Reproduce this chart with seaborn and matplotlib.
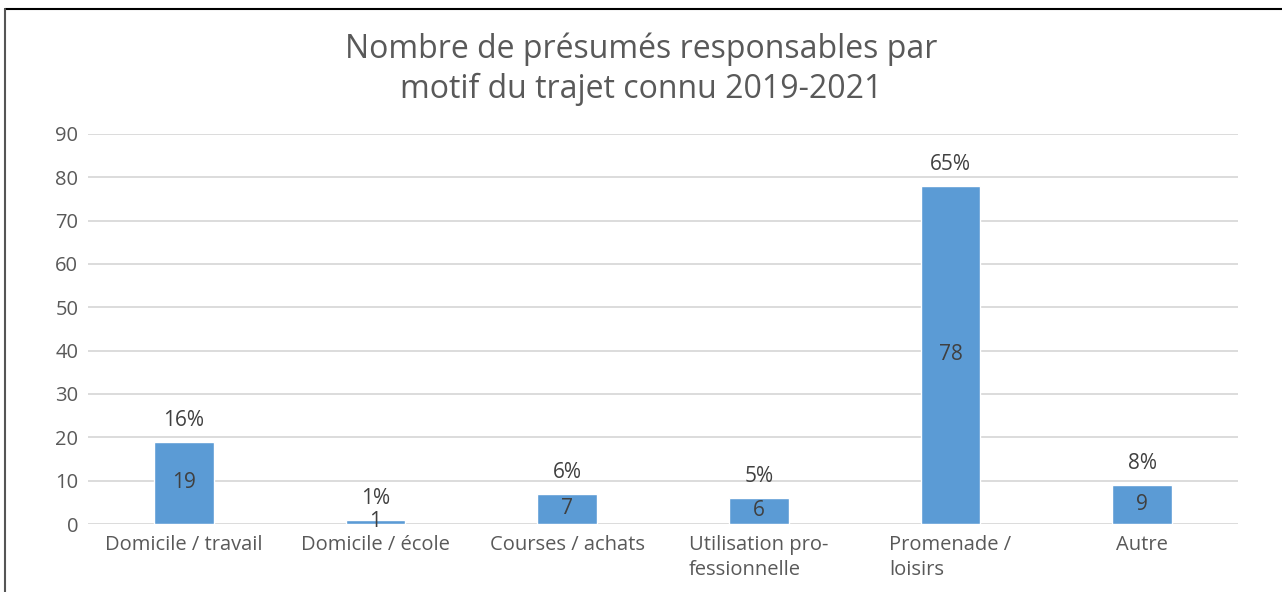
import matplotlib
matplotlib.use("Agg")
import matplotlib.pyplot as plt
from matplotlib.lines import Line2D
import seaborn as sns
import pandas as pd

categories = ["Domicile / travail", "Domicile / école", "Courses / achats",
              "Utilisation pro-\nfessionnelle", "Promenade /\nloisirs", "Autre"]
values = [19, 1, 7, 6, 78, 9]
percents = ["16%", "1%", "6%", "5%", "65%", "8%"]
yticks = list(range(0, 100, 10))

title = "Nombre de présumés responsables par\nmotif du trajet connu 2019-2021"

bar_color = "#5B9BD5"
text_color = "#595959"
grid_color = "#D9D9D9"

sns.set_theme(style="white")
plt.rcParams['font.family'] = ['Open Sans', 'DejaVu Sans']

df = pd.DataFrame({"motif": categories, "n": values})

fig = plt.figure(figsize=(12.82, 5.92), dpi=100)
ax = fig.add_axes([88 / 1282, 1 - 524 / 592, (1238 - 88) / 1282, (524 - 134) / 592])

sns.barplot(data=df, x="motif", y="n", color=bar_color, width=0.31,
            saturation=1, ax=ax)

ax.set_ylim(0, 90)
ax.set_yticks(yticks)
ax.yaxis.grid(True, color=grid_color, linewidth=1.3)
ax.set_axisbelow(True)
for s in ax.spines.values():
    s.set_visible(False)
ax.set_xlabel("")
ax.set_ylabel("")
ax.tick_params(axis="both", length=0, colors=text_color, labelsize=14.5)
ax.tick_params(axis="y", pad=7)
ax.tick_params(axis="x", pad=8)
for lab in ax.get_xticklabels():
    lab.set_multialignment("left")
    lab.set_linespacing(1.3)

cont = ax.containers[0]
ax.bar_label(cont, labels=[str(v) for v in values], label_type="center",
             color="#404040", fontsize=15)
ax.bar_label(cont, labels=percents, padding=8, color="#404040", fontsize=15)

fig.text(0.5, 1 - 69 / 592, title, ha="center", va="center",
         fontsize=23, color=text_color, linespacing=1.25)

# chart frame (top and left edges visible in the screenshot)
fig.add_artist(Line2D([5 / 1282, 1], [1 - 9 / 592, 1 - 9 / 592],
                      transform=fig.transFigure, color="black", linewidth=1.5))
fig.add_artist(Line2D([5 / 1282, 5 / 1282], [0, 1 - 9 / 592],
                      transform=fig.transFigure, color="#555555", linewidth=1.5))

fig.savefig("out.png", dpi=100)
